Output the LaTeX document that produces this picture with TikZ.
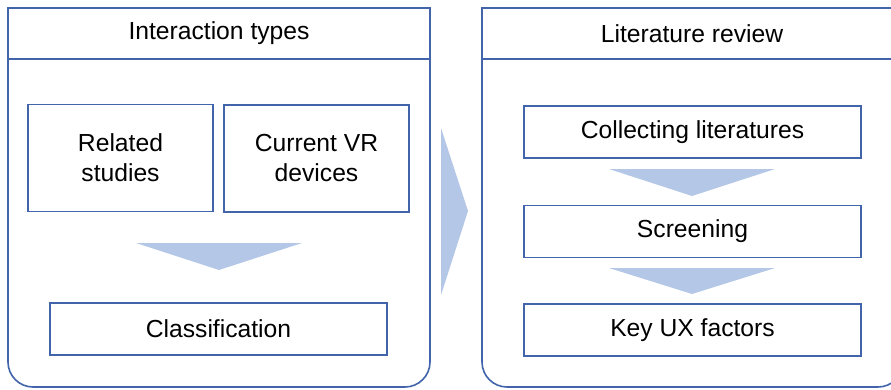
\documentclass[tikz,border=0pt]{standalone}
\usepackage{fontspec}
\setmainfont{Liberation Sans}
\definecolor{bordercol}{RGB}{65,100,170}
\definecolor{arrowcol}{RGB}{180,199,231}
\begin{document}
\begin{tikzpicture}[x=0.75pt,y=-0.75pt,
  line/.style={draw=bordercol, line width=1.2pt},
  txt/.style={font=\fontsize{18.5}{22.5}\selectfont, text=black, align=center, inner sep=0pt},
  box/.style={line, txt, rectangle},
  widebox/.style={box, minimum width=252.75pt, minimum height=39pt},
  tallbox/.style={box, minimum width=138.75pt, minimum height=80.5pt},
  chevron/.style={fill=arrowcol, draw=none}]
\useasboundingbox (0,0) rectangle (891,389);
\clip (0,0) rectangle (891,389);
% panels
\draw[line] (8,200) -- (8,8) -- (430,8) -- (430,200) [rounded corners=18.75pt] -- (430,387) -- (8,387) -- cycle;
\draw[line] (8,59) -- (430,59);
\draw[line] (482,200) -- (482,8) -- (903,8) -- (903,200) [rounded corners=18.75pt] -- (903,387) -- (482,387) -- cycle;
\draw[line] (482,59) -- (903,59);
\node[txt] (hA) at (219,33) {Interaction types};
\node[txt] (hB) at (692,34) {Literature review};
% left panel boxes
\node[tallbox] (rs) at (120.5,158) {Related\\studies};
\node[tallbox] (vr) at (316.5,158.5) {Current VR\\devices};
\node[widebox] (cl) at (218.5,329) {Classification};
% right panel boxes
\node[widebox] (co) at (692.5,132) {Collecting literatures};
\node[widebox] (sc) at (692.5,231.5) {Screening};
\node[widebox] (ky) at (692.5,330) {Key UX factors};
% chevrons
\fill[chevron] (136,243) -- (302,243) -- (219,270) -- cycle;
\fill[chevron] (609,169) -- (775,169) -- (692,196) -- cycle;
\fill[chevron] (609,268) -- (775,268) -- (692,294) -- cycle;
\fill[chevron] (441,128) -- (468,211) -- (441,295) -- cycle;
\end{tikzpicture}
\end{document}
